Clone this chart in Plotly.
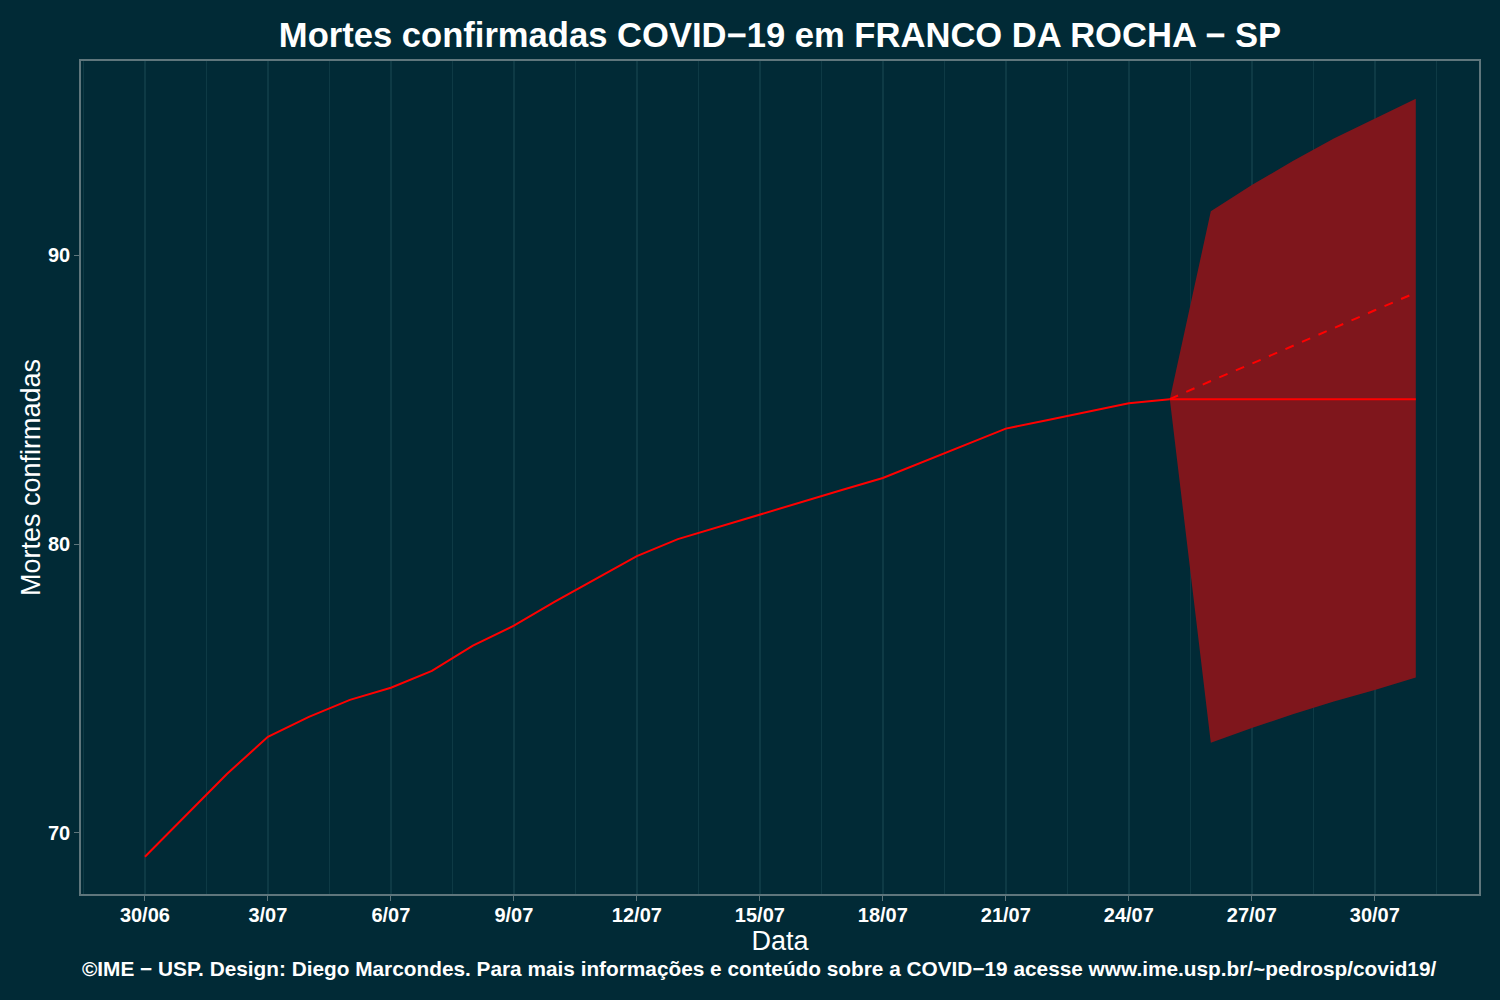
import plotly.graph_objects as go

# ---------------- data ----------------
hist_dates = [
    "2020-06-30", "2020-07-01", "2020-07-02", "2020-07-03", "2020-07-04", "2020-07-05",
    "2020-07-06", "2020-07-07", "2020-07-08", "2020-07-09", "2020-07-10", "2020-07-11",
    "2020-07-12", "2020-07-13", "2020-07-14", "2020-07-15", "2020-07-16", "2020-07-17",
    "2020-07-18", "2020-07-19", "2020-07-20", "2020-07-21", "2020-07-22", "2020-07-23",
    "2020-07-24", "2020-07-25",
]
hist_deaths = [
    69.16, 70.6, 72.03, 73.32, 74.01, 74.6,
    75.02, 75.6, 76.48, 77.17, 78.0, 78.79,
    79.58, 80.17, 80.6, 81.02, 81.44, 81.87,
    82.29, 82.86, 83.43, 84.0, 84.29, 84.59,
    84.88, 85.02,
]

fc_dates = ["2020-07-25", "2020-07-26", "2020-07-27", "2020-07-28",
            "2020-07-29", "2020-07-30", "2020-07-31"]
fc_mean = [85.02, 85.65, 86.25, 86.87, 87.5, 88.1, 88.71]
fc_flat = [85.02, 85.02, 85.02, 85.02, 85.02, 85.02, 85.02]
fc_upper = [85.02, 91.53, 92.44, 93.27, 94.05, 94.75, 95.43]
fc_lower = [85.02, 73.11, 73.62, 74.1, 74.54, 74.94, 75.37]

tick_dates = ["2020-06-30", "2020-07-03", "2020-07-06", "2020-07-09", "2020-07-12",
              "2020-07-15", "2020-07-18", "2020-07-21", "2020-07-24", "2020-07-27",
              "2020-07-30"]
tick_labels = ["30/06", "3/07", "6/07", "9/07", "12/07", "15/07", "18/07",
               "21/07", "24/07", "27/07", "30/07"]
y_ticks = [70, 80, 90]

title_text = "Mortes confirmadas COVID\u221219 em FRANCO DA ROCHA \u2212 SP"
caption_text = ("\u00a9IME \u2212 USP. Design: Diego Marcondes. Para mais informa\u00e7\u00f5es e "
                "conte\u00fado sobre a COVID\u221219 acesse www.ime.usp.br/~pedrosp/covid19/")

# ---------------- style ----------------
BG = "#012A36"
GRID = "#0E3A45"
FRAME = "#5F767C"
RED = "#FF0000"
BAND = "#7F161C"
NARROW = "Liberation Sans Narrow, Arial Narrow, Liberation Sans, Arial, sans-serif"
WIDE = "Liberation Sans, Arial, Helvetica, sans-serif"

fig = go.Figure()

fig.add_trace(go.Scatter(
    x=fc_dates + fc_dates[::-1],
    y=fc_upper + fc_lower[::-1],
    fill="toself", fillcolor=BAND, line=dict(width=0),
    mode="lines", hoverinfo="skip", showlegend=False,
))
fig.add_trace(go.Scatter(
    x=hist_dates, y=hist_deaths, mode="lines",
    line=dict(color=RED, width=2), showlegend=False,
))
fig.add_trace(go.Scatter(
    x=fc_dates, y=fc_flat, mode="lines",
    line=dict(color=RED, width=2), showlegend=False,
))
fig.add_trace(go.Scatter(
    x=fc_dates, y=fc_mean, mode="lines",
    line=dict(color=RED, width=2, dash="dash"), showlegend=False,
))

fig.update_layout(
    width=1500, height=1000,
    paper_bgcolor=BG, plot_bgcolor=BG,
    margin=dict(l=81, r=21, t=61, b=106),
    title=dict(text=title_text, x=(780 / 1500), xanchor="center",
               y=1 - 35 / 1000, yanchor="middle",
               font=dict(family=WIDE, size=34.6, color="white", weight="bold")),
    showlegend=False,
)

fig.update_xaxes(
    type="date",
    range=["2020-06-28 10:35", "2020-08-01 13:00"],
    tickmode="array", tickvals=tick_dates, ticktext=tick_labels,
    tickfont=dict(family=NARROW, size=20, color="white", weight="bold"),
    ticks="outside", ticklen=5, tickcolor=FRAME, tickwidth=1,
    ticklabelstandoff=-3,
    showgrid=True, gridcolor=GRID, gridwidth=1.5,
    minor=dict(showgrid=True, gridcolor=GRID, gridwidth=1, ticks="",
               tick0="2020-07-01 12:00", dtick=3 * 86400000),
    showline=True, linecolor=FRAME, linewidth=1.5, mirror=True,
    zeroline=False,
    title=dict(text="Data", font=dict(family=NARROW, size=27, color="white"), standoff=0),
)
fig.update_yaxes(
    range=[67.87, 96.74],
    tickmode="array", tickvals=y_ticks,
    tickfont=dict(family=NARROW, size=20, color="white", weight="bold"),
    ticks="outside", ticklen=5, tickcolor=FRAME, tickwidth=1,
    showgrid=False,
    showline=True, linecolor=FRAME, linewidth=1.5, mirror=True,
    zeroline=False,
    title=dict(text="Mortes confirmadas", font=dict(family=NARROW, size=27, color="white"),
               standoff=0),
)

fig.add_annotation(
    text=caption_text, xref="paper", yref="paper",
    x=(759 - 81) / 1398, y=-(968 - 894) / 833, xanchor="center", yanchor="middle",
    showarrow=False,
    font=dict(family=NARROW, size=20.8, color="white", weight="bold"),
)

fig.write_html("out.html")
